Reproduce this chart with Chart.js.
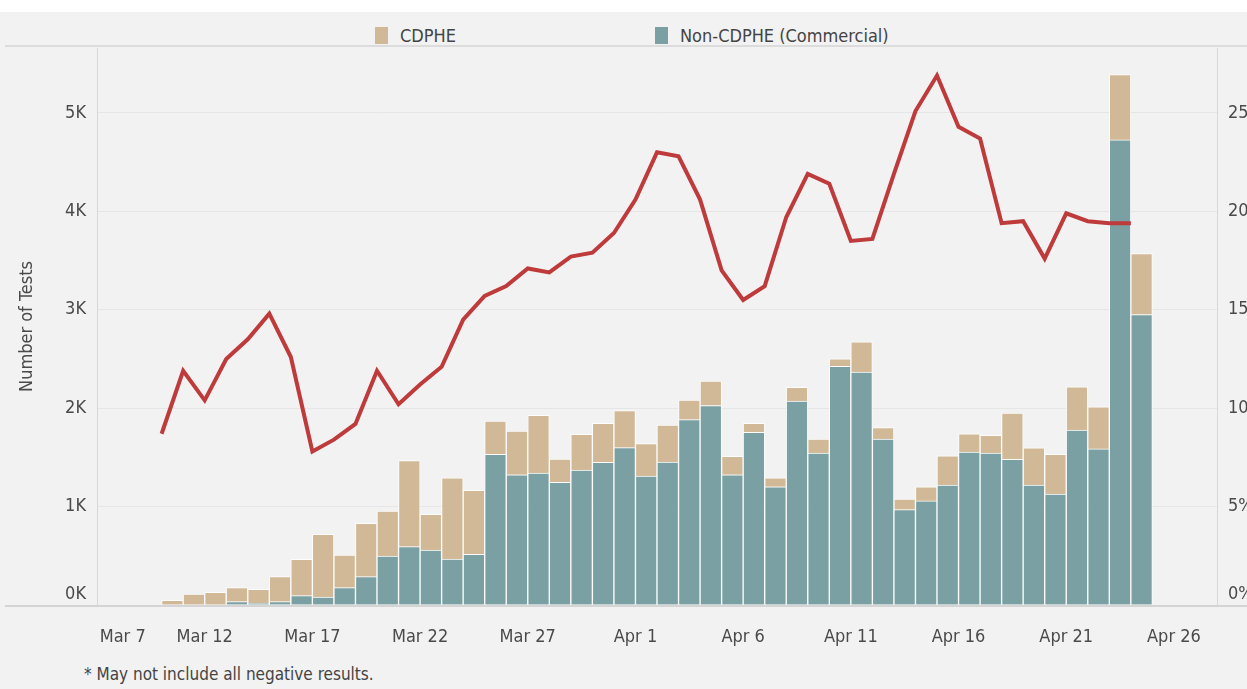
<!DOCTYPE html>
<html>
<head>
<meta charset="utf-8">
<script src="https://cdn.jsdelivr.net/npm/chart.js@4.4.1/dist/chart.umd.min.js"></script>
<style>
  html, body { margin: 0; padding: 0; background: #f2f2f2; width: 1247px; height: 689px; overflow: hidden; }
  #topband { position: absolute; left: 0; top: 0; width: 1247px; height: 12px; background: #fff; }
  #sep { position: absolute; left: 5px; top: 45px; width: 1242px; height: 2px; background: #dcdcdc; }
  .legend { position: absolute; top: 25px; display: flex; align-items: center;
            font: 18px "DejaVu Sans Condensed", "DejaVu Sans", sans-serif; color: #444; }
  .swatch { width: 13px; height: 17px; margin-right: 12px; }
  #wrap { position: absolute; left: 0; top: 40px; }
  #note { position: absolute; left: 84px; top: 664px;
          font: 17px "DejaVu Sans Condensed", "DejaVu Sans", sans-serif; color: #444; }
</style>
</head>
<body>
<div id="topband"></div>
<div class="legend" style="left:375px"><span class="swatch" style="background:#d1b997"></span>CDPHE</div>
<div class="legend" style="left:655px"><span class="swatch" style="background:#7ba0a3"></span>Non-CDPHE (Commercial)</div>
<div id="sep"></div>
<div id="wrap"><canvas id="chart" width="1265" height="610"></canvas></div>
<div id="note">* May not include all negative results.</div>
<script>
// test dates, Mar 10 - Apr 24
const dates = [
  "2020-03-10", "2020-03-11", "2020-03-12", "2020-03-13", "2020-03-14", "2020-03-15",
  "2020-03-16", "2020-03-17", "2020-03-18", "2020-03-19", "2020-03-20", "2020-03-21",
  "2020-03-22", "2020-03-23", "2020-03-24", "2020-03-25", "2020-03-26", "2020-03-27",
  "2020-03-28", "2020-03-29", "2020-03-30", "2020-03-31", "2020-04-01", "2020-04-02",
  "2020-04-03", "2020-04-04", "2020-04-05", "2020-04-06", "2020-04-07", "2020-04-08",
  "2020-04-09", "2020-04-10", "2020-04-11", "2020-04-12", "2020-04-13", "2020-04-14",
  "2020-04-15", "2020-04-16", "2020-04-17", "2020-04-18", "2020-04-19", "2020-04-20",
  "2020-04-21", "2020-04-22", "2020-04-23", "2020-04-24"
];

const nonCdphe = [
  0, 0, 0, 34, 17, 34, 95, 81, 176, 288, 498, 593,
  559, 467, 515, 1531, 1324, 1341, 1247, 1372, 1450, 1599, 1311, 1453,
  1883, 2026, 1324, 1755, 1202, 2073, 1545, 2425, 2368, 1686, 969, 1058,
  1219, 1554, 1543, 1479, 1219, 1126, 1778, 1586, 4726, 2951
];

const cdphe = [
  48, 112, 129, 142, 142, 254, 369, 637, 332, 542, 457, 874,
  362, 824, 650, 337, 444, 587, 237, 363, 396, 376, 329, 376,
  200, 250, 187, 91, 89, 139, 142, 77, 307, 117, 107, 143,
  296, 185, 182, 470, 378, 406, 439, 428, 663, 620
];

// percent positive (right axis)
const pctPositive = [
  8.7, 11.9, 10.4, 12.5, 13.5, 14.8, 12.6, 7.8, 8.4, 9.2, 11.9, 10.2,
  11.2, 12.1, 14.5, 15.7, 16.2, 17.1, 16.9, 17.7, 17.9, 18.9, 20.6, 23.0,
  22.8, 20.6, 17.0, 15.5, 16.2, 19.7, 21.9, 21.4, 18.5, 18.6, 21.9, 25.1,
  26.9, 24.3, 23.7, 19.4, 19.5, 17.6, 19.9, 19.5, 19.4, 19.4
];

const tickLabels = ["Mar 7", "Mar 12", "Mar 17", "Mar 22", "Mar 27", "Apr 1",
                    "Apr 6", "Apr 11", "Apr 16", "Apr 21", "Apr 26"];
const testTicks = [0, 1000, 2000, 3000, 4000, 5000];
const pctTicks = [0, 5, 10, 15, 20, 25];

const FONT = '"DejaVu Sans Condensed", "DejaVu Sans", sans-serif';
const start = Date.parse("2020-03-07");
const dayNum = d => (Date.parse(d) - start) / 86400000;

// full-width baseline under the plot, like the original dashboard
const baseline = {
  id: "baseline",
  beforeDatasetsDraw(chart) {
    const ctx = chart.ctx;
    ctx.save();
    ctx.strokeStyle = "#d4d4d4";
    ctx.lineWidth = 2;
    ctx.beginPath();
    ctx.moveTo(5, chart.chartArea.bottom + 1);
    ctx.lineTo(chart.width, chart.chartArea.bottom + 1);
    ctx.stroke();
    ctx.restore();
  }
};

// keep the plot box fixed regardless of label sizes
function fixBox(w, h) {
  return s => {
    if (w) s.width = w;
    if (h) s.height = h;
    s.paddingTop = 0; s.paddingBottom = 0;
    s.paddingLeft = 0; s.paddingRight = 0;
  };
}

new Chart(document.getElementById("chart"), {
  type: "bar",
  data: {
    datasets: [
      {
        type: "line",
        label: "% Positive",
        data: dates.map((d, i) => ({ x: dayNum(d), y: pctPositive[i] })),
        yAxisID: "y1",
        borderColor: "#bf3a3b",
        borderWidth: 4,
        pointRadius: 0,
        tension: 0,
        order: 0
      },
      {
        label: "Non-CDPHE (Commercial)",
        data: dates.map((d, i) => ({ x: dayNum(d) + 0.5, y: nonCdphe[i] })),
        backgroundColor: "#7ba0a3",
        borderColor: "rgba(255,255,255,0.85)",
        borderWidth: 1,
        stack: "tests",
        barPercentage: 1,
        categoryPercentage: 1,
        order: 1
      },
      {
        label: "CDPHE",
        data: dates.map((d, i) => ({ x: dayNum(d) + 0.5, y: cdphe[i] })),
        backgroundColor: "#d1b997",
        borderColor: "rgba(255,255,255,0.85)",
        borderWidth: 1,
        stack: "tests",
        barPercentage: 1,
        categoryPercentage: 1,
        order: 2
      }
    ]
  },
  options: {
    responsive: false,
    devicePixelRatio: 1,
    animation: false,
    layout: { padding: { top: 8, left: 0, right: 0, bottom: 0 } },
    plugins: {
      legend: { display: false },
      tooltip: { enabled: false }
    },
    scales: {
      x: {
        type: "linear",
        offset: false,
        min: 0,
        max: 52,
        grid: { display: false, offset: false },
        border: { display: false },
        ticks: {
          stepSize: 5,
          includeBounds: false,
          padding: 14,
          color: "#4a4a4a",
          font: { family: FONT, size: 18 },
          maxRotation: 0,
          autoSkip: false,
          // first label sits inside the plot edge, as in the original
          callback: v => v === 0 ? " ".repeat(10) + tickLabels[0] : tickLabels[Math.round(v / 5)]
        },
        afterFit: fixBox(0, 45)
      },
      y: {
        position: "left",
        stacked: true,
        min: 0,
        max: 5660,
        grid: { color: "#e6e6e6", drawTicks: false },
        border: { color: "#d8d8d8" },
        afterBuildTicks: s => { s.ticks = testTicks.map(v => ({ value: v })); },
        ticks: {
          padding: 11,
          color: "#4a4a4a",
          font: { family: FONT, size: 18 },
          callback: v => v === 0 ? ["0K", ""] : (v / 1000) + "K"
        },
        title: {
          display: true,
          text: "Number of Tests",
          color: "#4a4a4a",
          font: { family: FONT, size: 18 },
          padding: { top: 17, bottom: 0 }
        },
        afterFit: fixBox(97, 0)
      },
      y1: {
        position: "right",
        min: 0,
        max: 28.3,
        grid: { display: false, drawTicks: false },
        border: { color: "#d8d8d8" },
        afterBuildTicks: s => { s.ticks = pctTicks.map(v => ({ value: v })); },
        ticks: {
          padding: 11,
          color: "#4a4a4a",
          font: { family: FONT, size: 18 },
          callback: v => v === 0 ? ["0%", ""] : v + "%"
        },
        afterFit: fixBox(48, 0)
      }
    }
  },
  plugins: [baseline]
});
</script>
</body>
</html>
